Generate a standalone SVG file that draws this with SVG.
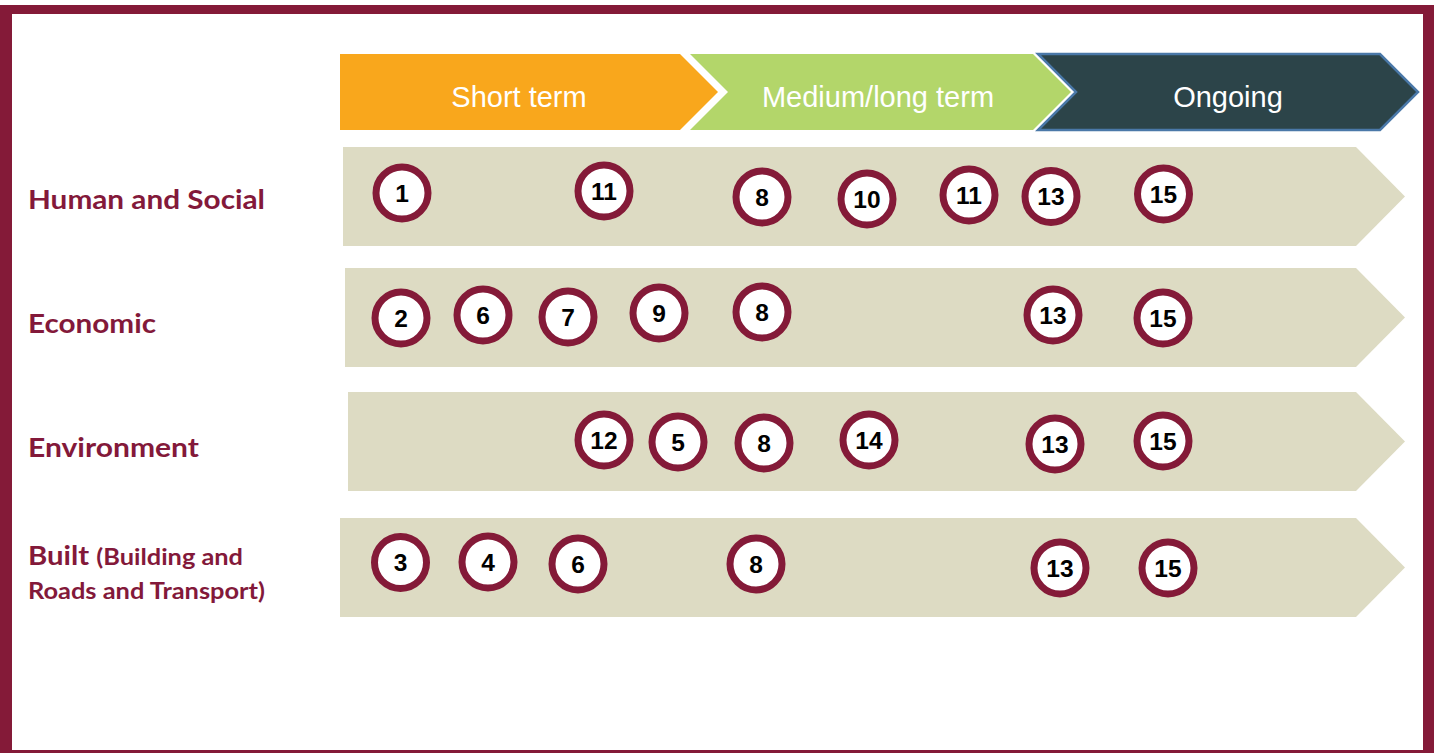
<svg xmlns="http://www.w3.org/2000/svg" width="1434" height="753" viewBox="0 0 1434 753">
<style>
.frame{fill:none;stroke:#841a38}
.band{fill:#dddbc3}
.hdr{font-family:"Liberation Sans",Arial,sans-serif;font-size:29px;fill:#ffffff;text-anchor:middle}
.lbl{font-family:Lato,"Liberation Sans",sans-serif;font-weight:bold;fill:#83193a}
.c circle{fill:#ffffff;stroke:#841a38;stroke-width:7}
.c text{font-family:"Liberation Sans",Arial,sans-serif;font-weight:bold;font-size:24.5px;fill:#000000;text-anchor:middle}
</style>
<rect width="1434" height="753" fill="#ffffff"/>
<g id="frame">
<rect x="0" y="5" width="1434" height="9" fill="#841a38"/>
<rect x="0" y="5" width="12" height="748" fill="#841a38"/>
<rect x="1423" y="5" width="11" height="748" fill="#841a38"/>
<rect x="0" y="750" width="1434" height="3" fill="#841a38"/>
</g>
<g id="header-short">
<polygon points="340,54 680,54 718,92 680,130 340,130" fill="#f9a71c"/>
<text class="hdr" x="519" y="107">Short term</text>
</g>
<g id="header-medium">
<polygon points="690,54 1033,54 1071,92 1033,130 690,130 728,92" fill="#b3d66a"/>
<text class="hdr" x="878" y="107">Medium/long term</text>
</g>
<g id="header-ongoing">
<polygon points="1038,54 1380,54 1418,92 1380,130 1038,130 1076,92" fill="#2c4449" stroke="#4a78a8" stroke-width="2.5" stroke-linejoin="miter"/>
<text class="hdr" x="1228" y="107">Ongoing</text>
</g>
<g id="row-human">
<polygon class="band" points="343,147 1356,147 1405,196.5 1356,246 343,246"/>
<text class="lbl" x="28" y="209" font-size="26" textLength="237" lengthAdjust="spacingAndGlyphs">Human and Social</text>
</g>
<g id="row-economic">
<polygon class="band" points="345,268 1356,268 1405,317.5 1356,367 345,367"/>
<text class="lbl" x="28" y="333" font-size="26" textLength="128" lengthAdjust="spacingAndGlyphs">Economic</text>
</g>
<g id="row-environment">
<polygon class="band" points="348,392 1356,392 1405,441.5 1356,491 348,491"/>
<text class="lbl" x="28" y="457" font-size="26" textLength="171" lengthAdjust="spacingAndGlyphs">Environment</text>
</g>
<g id="row-built">
<polygon class="band" points="340,518 1356,518 1405,567.5 1356,617 340,617"/>
<text class="lbl" x="28" y="565" font-size="26" textLength="215" lengthAdjust="spacingAndGlyphs">Built <tspan font-size="22.5">(Building and</tspan></text>
<text class="lbl" x="28" y="599" font-size="22.5" textLength="237" lengthAdjust="spacingAndGlyphs">Roads and Transport)</text>
</g>
<g id="markers" class="c">
<g id="h1"><circle cx="402" cy="193" r="26"/><text x="402" y="201.5">1</text></g>
<g id="h11a"><circle cx="604" cy="191" r="26"/><text x="604" y="199.5">11</text></g>
<g id="h8"><circle cx="762" cy="197" r="26"/><text x="762" y="205.5">8</text></g>
<g id="h10"><circle cx="867" cy="199" r="26"/><text x="867" y="207.5">10</text></g>
<g id="h11b"><circle cx="969" cy="195" r="26"/><text x="969" y="203.5">11</text></g>
<g id="h13"><circle cx="1051" cy="196.5" r="26"/><text x="1051" y="205">13</text></g>
<g id="h15"><circle cx="1163.5" cy="194" r="26"/><text x="1163.5" y="202.5">15</text></g>

<g id="e2"><circle cx="401" cy="318" r="26"/><text x="401" y="326.5">2</text></g>
<g id="e6"><circle cx="483" cy="315" r="26"/><text x="483" y="323.5">6</text></g>
<g id="e7"><circle cx="568" cy="317" r="26"/><text x="568" y="325.5">7</text></g>
<g id="e9"><circle cx="659" cy="313" r="26"/><text x="659" y="321.5">9</text></g>
<g id="e8"><circle cx="762" cy="312" r="26"/><text x="762" y="320.5">8</text></g>
<g id="e13"><circle cx="1053" cy="315" r="26"/><text x="1053" y="323.5">13</text></g>
<g id="e15"><circle cx="1163" cy="318" r="26"/><text x="1163" y="326.5">15</text></g>

<g id="v12"><circle cx="604" cy="440" r="26"/><text x="604" y="448.5">12</text></g>
<g id="v5"><circle cx="678" cy="442" r="26"/><text x="678" y="450.5">5</text></g>
<g id="v8"><circle cx="764" cy="443" r="26"/><text x="764" y="451.5">8</text></g>
<g id="v14"><circle cx="869" cy="440" r="26"/><text x="869" y="448.5">14</text></g>
<g id="v13"><circle cx="1055" cy="444" r="26"/><text x="1055" y="452.5">13</text></g>
<g id="v15"><circle cx="1163" cy="441" r="26"/><text x="1163" y="449.5">15</text></g>

<g id="b3"><circle cx="400.5" cy="562.5" r="26"/><text x="400.5" y="571">3</text></g>
<g id="b4"><circle cx="488" cy="562" r="26"/><text x="488" y="570.5">4</text></g>
<g id="b6"><circle cx="578" cy="564" r="26"/><text x="578" y="572.5">6</text></g>
<g id="b8"><circle cx="756" cy="564" r="26"/><text x="756" y="572.5">8</text></g>
<g id="b13"><circle cx="1060" cy="568" r="26"/><text x="1060" y="576.5">13</text></g>
<g id="b15"><circle cx="1168" cy="568" r="26"/><text x="1168" y="576.5">15</text></g>
</g>
<g id="connectors"/>
</svg>
